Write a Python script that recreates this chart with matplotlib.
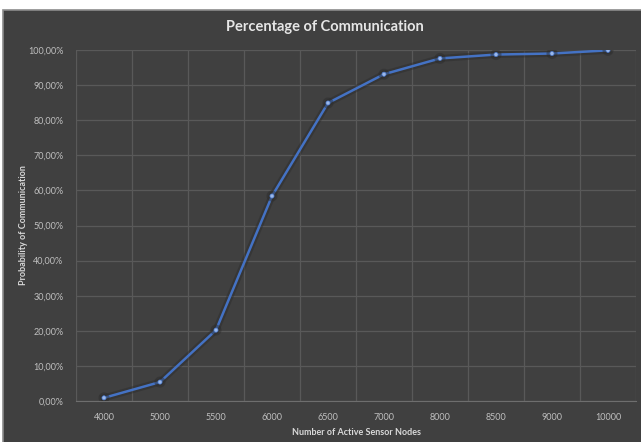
import numpy as np
import matplotlib.pyplot as plt
import matplotlib.patheffects as pe
from matplotlib.patches import Rectangle
from matplotlib.ticker import FuncFormatter

# Active sensor nodes and probability of communication (%)
nodes = ["4000", "5000", "5500", "6000", "6500", "7000", "8000", "8500", "9000", "10000"]
prob = [0.9, 5.4, 20.2, 58.4, 84.9, 93.1, 97.6, 98.7, 99.0, 99.9]

bg = "#404040"
grid_c = "#595959"
txt = "#bfbfbf"
line_c = "#4472c4"

plt.rcParams["font.family"] = ["Lato", "DejaVu Sans"]

fig = plt.figure(figsize=(6.41, 4.42), dpi=100, facecolor="white")
W, H = 641, 442

# dark chart area with thin grey border
fig.patches.append(Rectangle((3 / W, -0.01), 1, 1.01 - 10 / H, transform=fig.transFigure,
                             facecolor=bg, edgecolor="#8c8c8c", linewidth=1.2, zorder=0))

ax = fig.add_axes([76 / W, 1 - 401 / H, 560 / W, 351 / H])
ax.set_zorder(2)
ax.set_facecolor(bg)
x = np.arange(len(nodes))

ax.plot(x, prob, color=line_c, linewidth=1.8, marker="o", markersize=3.0,
        markerfacecolor="#9bb8ea", markeredgecolor=line_c, markeredgewidth=0.5,
        zorder=3,
        path_effects=[pe.Stroke(linewidth=5, foreground="#2b2b2b", alpha=0.45), pe.Normal()])

ax.set_xlim(-0.5, len(nodes) - 0.5)
ax.set_ylim(0, 100)
ax.set_xticks(x)
ax.set_xticklabels(nodes)
ax.set_xticks(np.arange(-0.5, len(nodes)), minor=True)
ax.set_yticks(np.arange(0, 101, 10))
ax.yaxis.set_major_formatter(FuncFormatter(lambda v, p: f"{v:.2f}%".replace(".", ",")))

ax.grid(True, which="minor", axis="x", color=grid_c, linewidth=0.9)
ax.grid(True, which="major", axis="y", color=grid_c, linewidth=0.9)
ax.tick_params(which="both", length=0)
ax.tick_params(axis="both", colors=txt, labelsize=6.5)
ax.tick_params(axis="x", pad=9)
ax.tick_params(axis="y", pad=9)

for s in ["top", "right", "left"]:
    ax.spines[s].set_visible(False)
ax.spines["bottom"].set_color("#6e6e6e")

ax.set_xlabel("Number of Active Sensor Nodes", color="#d9d9d9", fontsize=6.5,
              fontweight="bold", labelpad=4)
ax.set_ylabel("Probability of Communication", color="#d9d9d9", fontsize=6.5,
              fontweight="bold", labelpad=0)

fig.text(325 / W, 1 - 27 / H, "Percentage of Communication", color="#e6e6e6",
         fontsize=10.5, fontweight="bold", ha="center", va="center", zorder=3)

fig.savefig("out.png", dpi=100, facecolor=fig.get_facecolor())
